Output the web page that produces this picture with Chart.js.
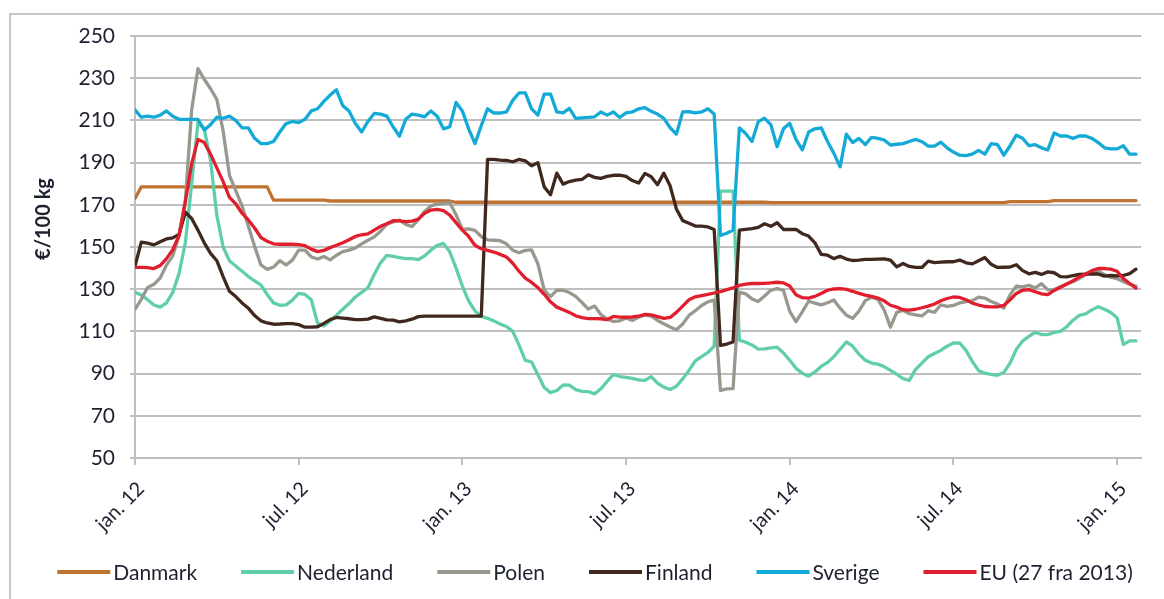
<!DOCTYPE html>
<html>
<head>
<meta charset="utf-8">
<script src="https://cdn.jsdelivr.net/npm/chart.js@4.4.1/dist/chart.umd.min.js"></script>
<style>
  html, body { margin: 0; padding: 0; background: #fff; }
  #wrap { width: 1164px; height: 599px; position: relative; }
</style>
</head>
<body>
<div id="wrap"><canvas id="c" width="1164" height="599"></canvas></div>
<script>
// Weekly pig prices, €/100 kg, from week 1 of 2012 to early 2015.
const tickWeeks = [0, 26, 52, 78, 104, 130, 156];
const tickLabels = ['jan. 12', 'jul. 12', 'jan. 13', 'jul. 13', 'jan. 14', 'jul. 14', 'jan. 15'];

const danmark = [
  173, 178.5, 178.5, 178.5, 178.5, 178.5, 178.5, 178.5, 178.5, 178.5,
  178.5, 178.5, 178.5, 178.5, 178.5, 178.5, 178.5, 178.5, 178.5, 178.5,
  178.5, 178.5, 172.2, 172.2, 172.2, 172.2, 172.2, 172.2, 172.2, 172.2,
  172.2, 171.8, 171.8, 171.8, 171.8, 171.8, 171.8, 171.8, 171.8, 171.8,
  171.8, 171.8, 171.8, 171.8, 171.8, 171.8, 171.8, 171.8, 171.8, 171.8,
  171.8, 171.2, 171.2, 171.2, 171.2, 171.2, 171.2, 171.2, 171.2, 171.2,
  171.2, 171.2, 171.2, 171.2, 171.2, 171.2, 171.2, 171.2, 171.2, 171.2,
  171.2, 171.2, 171.2, 171.2, 171.2, 171.2, 171.2, 171.2, 171.2, 171.2,
  171.2, 171.2, 171.2, 171.2, 171.2, 171.2, 171.2, 171.2, 171.2, 171.2,
  171.2, 171.2, 171.2, 171.2, 171.2, 171.2, 171.2, 171.2, 171.2, 171.2,
  171.2, 171, 171, 171, 171, 171, 171, 171, 171, 171,
  171, 171, 171, 171, 171, 171, 171, 171, 171, 171,
  171, 171, 171, 171, 171, 171, 171, 171, 171, 171,
  171, 171, 171, 171, 171, 171, 171, 171, 171, 171.5,
  171.5, 171.5, 171.5, 171.5, 171.5, 171.5, 172, 172, 172, 172,
  172, 172, 172, 172, 172, 172, 172, 172, 172, 172
];

const nederland = [
  128.5, 127.3, 125, 122.5, 121.5, 123.5, 128.5, 137.5, 152, 180,
  209, 206, 191, 165, 150, 143.5, 141, 138.5, 136, 134,
  132, 127.5, 123.5, 122.4, 122.6, 124.8, 128, 127.5, 125, 114,
  112.6, 115, 117.7, 120.5, 123.2, 126.3, 128.5, 130.7, 137, 142.5,
  146, 145.6, 145, 144.5, 144.5, 144, 145.8, 148.5, 150.8, 151.7,
  147.7, 140, 131.5, 124.5, 119.7, 117.2, 116.2, 115, 113.5, 112.3,
  110, 103.5, 96.3, 95.5, 89.5, 83.4, 81, 82, 84.6, 84.5,
  82.4, 81.6, 81.5, 80.4, 82.8, 86.3, 89.6, 88.6, 88.2, 87.7,
  87, 86.8, 88.6, 85.5, 83.6, 82.5, 84, 87.5, 91.5, 96,
  98, 100, 103, 176.5, 176.5, 176.5, 105.8, 104.9, 103.6, 101.6,
  101.7, 102.2, 102.5, 99.8, 96.3, 92.5, 90.2, 88.8, 90.8, 93.4,
  95.3, 98, 101.5, 105, 103, 99.2, 96.3, 95, 94.5, 93.3,
  91.5, 89.7, 87.6, 86.8, 92, 95, 98, 99.5, 101, 103,
  104.5, 104.5, 101, 95.8, 91.4, 90.2, 89.6, 89.2, 90.5, 95,
  101.5, 105.5, 107.6, 109.6, 108.5, 108.5, 109.5, 110, 112.2, 115.3,
  117.6, 118.3, 120.2, 121.7, 120.5, 119, 116.5, 103.8, 105.5, 105.5
];

const polen = [
  120.5, 125.2, 130.8, 132.3, 135.3, 141.4, 145.8, 155.5, 172, 215,
  234.5, 229.5, 225, 220, 205, 184, 176.7, 169.5, 160, 150.3,
  141.5, 139.4, 140.5, 143.5, 141.5, 143.8, 148.5, 148.5, 145.3, 144.3,
  145.5, 143.9, 146.1, 147.8, 148.5, 149.6, 151.5, 153.2, 154.8, 157.5,
  160.8, 161.9, 162.7, 160.7, 159.7, 163, 166.8, 169.5, 170.3, 170.7,
  171, 165.3, 158.3, 158.6, 157.9, 155, 153.4, 153.2, 153, 151.5,
  148.5, 147.3, 148.4, 148.6, 142, 129.5, 126.5, 129.5, 129.5, 128.4,
  126.6, 123.7, 120.6, 122, 118, 115.8, 114.7, 115, 116.4, 115.2,
  116.8, 117.7, 117.2, 115.2, 113.6, 112.1, 110.8, 113.5, 117.6, 119.8,
  122.3, 124, 124.8, 82.1, 82.8, 82.9, 128.6, 127.8, 125.4, 124.2,
  126.8, 129.5, 130.3, 129.5, 119.5, 114.6, 119.3, 124.3, 123.4, 122.6,
  123.6, 124.9, 121, 117.7, 116.2, 119.6, 124.6, 126.2, 125.2, 120.2,
  112, 119, 120, 118.4, 117.8, 117.3, 119.8, 119, 122.6, 121.9,
  122.3, 123.5, 124.1, 124.6, 126.2, 125.8, 124.2, 123, 121, 127.3,
  131.5, 131.1, 131.8, 130.6, 132.6, 129.7, 129.8, 131.1, 132.4, 133.5,
  135.1, 136.8, 138.2, 138.6, 136.9, 135.7, 135, 133.6, 132.4, 131.5
];

const finland = [
  141, 152.3, 151.8, 151, 152.5, 153.8, 154.3, 156, 166.5, 163.5,
  158, 152, 147, 143.5, 136, 129, 126.5, 123.5, 121, 117.5,
  115, 114, 113.4, 113.5, 113.7, 113.7, 113.2, 112, 112, 112.2,
  113.8, 115.6, 116.6, 116.3, 116, 115.6, 115.6, 115.8, 116.9, 116.2,
  115.5, 115.3, 114.5, 115, 115.8, 117, 117.2, 117.2, 117.2, 117.2,
  117.2, 117.2, 117.2, 117.2, 117.2, 117.2, 191.5, 191.5, 191.2, 191,
  190.4, 191.5, 190.8, 188.5, 190, 178.5, 174.8, 185, 179.8, 181,
  181.7, 182, 184.2, 183, 182.5, 183.5, 184, 184.1, 183.5, 181.5,
  180.3, 184.9, 183.3, 179.5, 185, 179, 168, 162.5, 161.3, 159.9,
  159.9, 159.5, 158.3, 103.4, 104, 105, 158, 158.4, 158.7, 159.3,
  161, 159.8, 161.5, 158.3, 158.3, 158.3, 156.3, 155.2, 152, 146.5,
  146.1, 144.5, 145.6, 144.3, 143.6, 143.8, 144.1, 144.1, 144.3, 144.4,
  143.8, 140.6, 142.2, 140.8, 140.3, 140.3, 143.3, 142.6, 142.8, 143,
  143, 143.8, 142.5, 142, 143.5, 145, 141.8, 140.3, 140.4, 140.5,
  141.6, 138.8, 137.3, 138, 137, 138.2, 137.8, 136, 135.8, 136.4,
  137, 137.1, 137.2, 137.2, 136.2, 136.5, 136.3, 136.5, 137.4, 139.5
];

const sverige = [
  215, 211.5, 212, 211.5, 212.5, 214.5, 212, 210.5, 210.5, 210.5,
  210.5, 205.5, 208, 211.5, 211, 212, 210, 206.5, 206.5, 201.5,
  199, 199, 200, 204.5, 208.5, 209.5, 209, 210.5, 214.5, 215.5,
  219, 222, 224.5, 217, 214.5, 208.5, 204.5, 209.5, 213.3, 213,
  212, 207, 202.5, 210.5, 213, 212.5, 211.7, 214.5, 212, 206,
  207, 218.5, 214.5, 206, 199, 207.5, 215.5, 213.5, 213.5, 214,
  219.5, 223, 223, 215.5, 212.5, 222.5, 222.5, 214, 213.6, 215.7,
  211, 211.2, 211.4, 211.7, 214, 212.5, 214, 211.4, 213.6, 214,
  215.5, 216, 214.3, 213, 211, 206.5, 203.5, 214, 214.1, 213.6,
  214, 215.5, 213, 155.5, 156.5, 158, 206.5, 203.8, 200, 209.4,
  211, 208, 197.5, 206, 208.6, 201, 196, 204.5, 206, 206.5,
  200, 194.5, 188, 203.5, 199.5, 201.5, 198.5, 202, 201.5, 200.7,
  198.3, 198.7, 199, 200, 201, 199.9, 197.8, 197.8, 199.7, 197,
  195, 193.5, 193.3, 194, 195.8, 194, 199, 198.5, 193.5, 198,
  203, 201.5, 198, 198.5, 197, 196, 204, 202.6, 202.6, 201.5,
  202.6, 202.6, 201.5, 199.5, 197, 196.5, 196.5, 198, 194, 194
];

const eu = [
  140.3, 140.3, 140.2, 139.8, 141.2, 144.5, 148.7, 155.5, 171.5, 189.5,
  201, 199.5, 194, 187.5, 181, 173.5, 170.5, 166, 162.8, 159,
  154.5, 152.7, 151.5, 151.3, 151.3, 151.3, 151.1, 150.6, 149, 147.8,
  148.4, 149.7, 150.8, 152, 153.4, 155, 155.8, 156.2, 158, 159.8,
  161, 162.5, 162.4, 162, 162.3, 163.2, 166, 167.5, 167.8, 167.2,
  165.1, 161.5, 158, 155, 150.8, 149.2, 148.4, 147.6, 146.5, 145.3,
  142.3, 138.5, 135.2, 133.2, 130.8, 127.6, 124, 121.5, 120.3, 119,
  117.4, 116.5, 116.1, 116.1, 116, 115.6, 117.1, 116.8, 116.7, 116.9,
  117.2, 118.1, 117.8, 117, 116.2, 116.6, 119, 122, 125, 126.4,
  127, 127.5, 128.2, 128.8, 129.8, 130.6, 131.8, 132.4, 132.7, 132.7,
  132.8, 133, 133.3, 133, 131.5, 127.4, 126, 125.8, 126.6, 128,
  129.5, 130.1, 130.3, 129.9, 129, 128, 127.2, 126.6, 125.8, 124.5,
  122.4, 121.5, 120.3, 120.1, 120.5, 121.2, 122, 123, 124.5, 125.6,
  126.3, 126.1, 125, 123.4, 122.5, 121.8, 121.6, 121.6, 122.3, 125,
  128, 129.5, 129.8, 128.8, 127.8, 127.4, 129.4, 130.9, 132.5, 134,
  135.8, 137.2, 138.8, 139.8, 139.8, 139.5, 138.5, 135, 132.7, 130.5
];

// Week index of every observation (0 = first week of January 2012).
const weeks = danmark.map((_, i) => i);

const GRID = '#bfbfbf';
const TEXT = '#1d2130';
const FONT = 'Lato, "Open Sans", sans-serif';

// White background and the light frame around the whole figure.
const framePlugin = {
  id: 'frame',
  beforeDraw(chart) {
    const ctx = chart.ctx;
    ctx.save();
    ctx.fillStyle = '#ffffff';
    ctx.fillRect(0, 0, chart.width, chart.height);
    ctx.strokeStyle = '#c8c8c8';
    ctx.lineWidth = 2;
    ctx.strokeRect(10, 14, 1300, 800);
    ctx.restore();
  }
};

// Rotated unit title to the left of the value axis.
const unitTitle = {
  id: 'unitTitle',
  afterDraw(chart, args, opts) {
    const ctx = chart.ctx;
    ctx.save();
    ctx.translate(opts.x, opts.y);
    ctx.rotate(-Math.PI / 2);
    ctx.font = `bold ${opts.size}px ${FONT}`;
    ctx.fillStyle = TEXT;
    ctx.textAlign = 'center';
    ctx.textBaseline = 'middle';
    ctx.fillText(opts.text, 0, 0);
    ctx.restore();
  }
};

// One-row legend below the axis: line sample followed by the series name.
const legendRow = {
  id: 'legendRow',
  afterDraw(chart, args, opts) {
    const ctx = chart.ctx;
    ctx.save();
    ctx.font = `${opts.size}px ${FONT}`;
    const items = chart.data.datasets.map(ds => ({ ds, w: ctx.measureText(ds.label).width }));
    const total = items.reduce((s, it) => s + opts.lineLen + opts.gap + it.w, 0) + opts.spacing * (items.length - 1);
    let x = opts.centerX - total / 2;
    ctx.textBaseline = 'middle';
    ctx.textAlign = 'left';
    items.forEach(it => {
      ctx.strokeStyle = it.ds.borderColor;
      ctx.lineWidth = opts.lineWidth;
      ctx.beginPath();
      ctx.moveTo(x, opts.y);
      ctx.lineTo(x + opts.lineLen, opts.y);
      ctx.stroke();
      x += opts.lineLen + opts.gap;
      ctx.fillStyle = TEXT;
      ctx.fillText(it.ds.label, x, opts.y + 1);
      x += it.w + opts.spacing;
    });
    ctx.restore();
  }
};

const series = [
  { label: 'Danmark', data: danmark, color: '#c07331', order: 6 },
  { label: 'Nederland', data: nederland, color: '#60ceaa', order: 5 },
  { label: 'Polen', data: polen, color: '#98988f', order: 4 },
  { label: 'Finland', data: finland, color: '#40281f', order: 3 },
  { label: 'Sverige', data: sverige, color: '#14aad8', order: 2 },
  { label: 'EU (27 fra 2013)', data: eu, color: '#e11e2d', order: 1 }
];

new Chart(document.getElementById('c'), {
  type: 'line',
  data: {
    labels: weeks,
    datasets: series.map(s => ({
      label: s.label,
      data: s.data,
      borderColor: s.color,
      backgroundColor: s.color,
      borderWidth: 3.3,
      pointRadius: 0,
      tension: 0,
      fill: false,
      order: s.order
    }))
  },
  options: {
    responsive: false,
    animation: false,
    devicePixelRatio: 1,
    layout: { padding: { top: 36, right: 23, left: 0, bottom: 0 } },
    elements: { line: { borderCapStyle: 'round', borderJoinStyle: 'round' } },
    plugins: {
      legend: { display: false },
      tooltip: { enabled: false },
      unitTitle: { text: '€/100 kg', x: 44, y: 219, size: 20 },
      legendRow: { y: 572, centerX: 595, size: 21, lineLen: 53, gap: 3, spacing: 44, lineWidth: 4 }
    },
    scales: {
      x: {
        type: 'linear',
        min: 0,
        max: 159.8,
        afterBuildTicks: scale => { scale.ticks = tickWeeks.map(v => ({ value: v })); },
        afterFit: scale => { scale.height = 141; },
        ticks: {
          callback: v => tickLabels[tickWeeks.indexOf(v)],
          minRotation: 45,
          maxRotation: 45,
          autoSkip: false,
          padding: 12,
          labelOffset: 6,
          color: TEXT,
          font: { family: FONT, size: 20 }
        },
        grid: { drawOnChartArea: false, tickLength: 7, color: GRID, lineWidth: 2 },
        border: { color: GRID, width: 2 }
      },
      y: {
        min: 50,
        max: 250,
        afterFit: scale => { scale.width = 135; },
        ticks: {
          stepSize: 20,
          padding: 15,
          color: TEXT,
          font: { family: FONT, size: 21 }
        },
        grid: { color: GRID, lineWidth: 2, tickLength: 5 },
        border: { color: GRID, width: 2 }
      }
    }
  },
  plugins: [framePlugin, unitTitle, legendRow]
});
</script>
</body>
</html>
